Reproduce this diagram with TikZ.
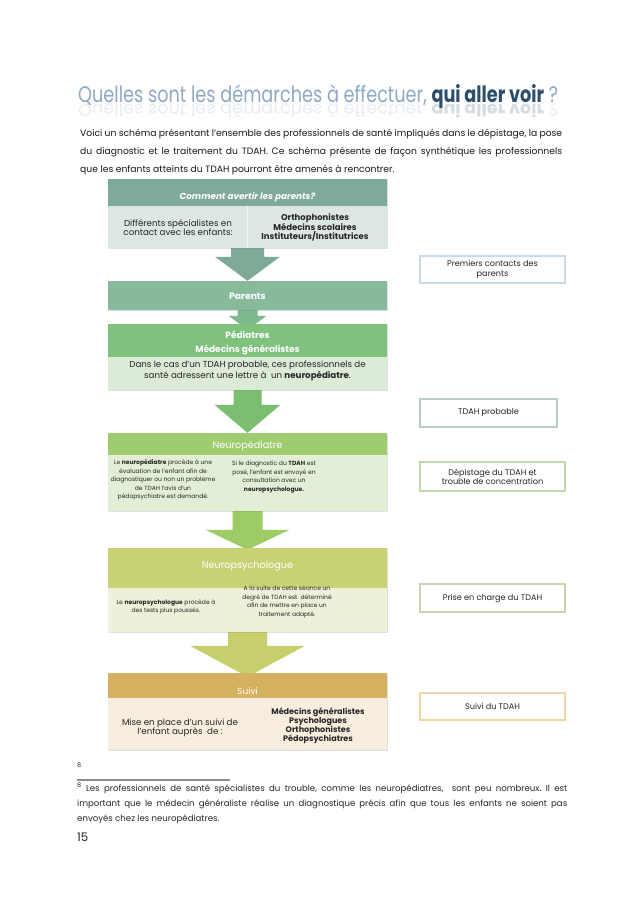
\documentclass[tikz,border=0pt]{standalone}
\usepackage{fontspec}
\setmainfont{Poppins}
\usepackage{graphicx}
\usetikzlibrary{calc,shadows,backgrounds}

% colours of the boxes
\definecolor{titleLight}{HTML}{8EA9C4}
\definecolor{titleDark}{HTML}{2C4D6B}
\definecolor{avertirHead}{HTML}{7FAA9A}
\definecolor{avertirBody}{HTML}{DCE6E2}
\definecolor{parentsFill}{HTML}{86BA9A}
\definecolor{pediaHead}{HTML}{7EC27D}
\definecolor{pediaBody}{HTML}{DBEBD7}
\definecolor{neuroHead}{HTML}{9FCC6F}
\definecolor{neuroBody}{HTML}{E2EED5}
\definecolor{psyHead}{HTML}{C9D273}
\definecolor{psyBody}{HTML}{EEF0D9}
\definecolor{suiviHead}{HTML}{D6B15F}
\definecolor{suiviBody}{HTML}{F7EEDF}
\definecolor{arrowA}{HTML}{7FAA97}
\definecolor{arrowB}{HTML}{7DB88E}
\definecolor{arrowC}{HTML}{7BBE6F}
\definecolor{arrowD}{HTML}{9DCB66}
\definecolor{arrowE}{HTML}{C6CF6B}
\definecolor{sideA}{HTML}{C9D9E8}
\definecolor{sideB}{HTML}{B7CCC2}
\definecolor{sideC}{HTML}{BEDAAA}
\definecolor{sideD}{HTML}{CFCFB3}
\definecolor{sideE}{HTML}{EDD7A3}

\newcommand{\pxu}{0.9326pt}
\newcommand{\titleline}{\resizebox{447.6pt}{16.8pt}{\fontsize{14}{14}\selectfont
  \color{titleLight}Quelles sont les démarches à effectuer, \textcolor{titleDark}{\bfseries qui aller voir} ?}}

% block arrow: from, to, stem half, head half, head length, overlap, colour
\newcommand{\flowarrow}[7]{%
  \fill[#7] ($(#1.south)+(-#3,0)$) -- ($(#1.south)+(#3,0)$)
    -- ($(#2.north)+(#3,#6-#5)$) -- ($(#2.north)+(#4,#6-#5)$)
    -- ($(#2.north)+(0,#6)$)
    -- ($(#2.north)+(-#4,#6-#5)$) -- ($(#2.north)+(-#3,#6-#5)$) -- cycle;}

\tikzset{
  band/.style={rectangle, inner sep=0pt, minimum width=279*\pxu,
    drop shadow={shadow xshift=0.6pt, shadow yshift=-0.9pt, opacity=0.25, fill=black!50}},
  headtext/.style={text=white, align=center, inner sep=0pt, font=\bfseries\fontsize{8.4}{9}\selectfont},
  bodytext/.style={inner sep=0pt, align=center, text=black!85, font=\fontsize{8.1}{8.5}\selectfont},
  smalltext/.style={bodytext, font=\fontsize{5.6}{7.9}\selectfont},
  sidebox/.style={rectangle, draw, line width=1.2pt, fill=white, inner sep=0pt,
    minimum width=145*\pxu, minimum height=27*\pxu, align=center, text=black!85,
    font=\fontsize{7.6}{8.6}\selectfont},
  paratext/.style={anchor=base west, inner sep=0pt, text=black!90, font=\fontsize{8.6}{10}\selectfont},
  notetext/.style={anchor=base west, inner sep=0pt, text=black!85, font=\fontsize{8}{9}\selectfont},
}

\begin{document}
\frenchspacing
\begin{tikzpicture}[x=\pxu, y=-\pxu]
  \useasboundingbox (0,0) rectangle (638,903);

  % Title and its reflection
  \node[anchor=base west, inner sep=0pt] (title) at (78,103) {\titleline};
  \node[anchor=base west, inner sep=0pt, opacity=0.2] (titleMirror) at (78,105) {\scalebox{1}[-0.75]{\titleline}};

  % Introduction
  \node[paratext] (parA) at (80,137) {\makebox[449.5pt][s]{Voici un schéma présentant l'ensemble des professionnels de santé impliqués dans le dépistage, la pose}};
  \node[paratext] (parB) at (80,155) {\makebox[449.5pt][s]{du diagnostic et le traitement du TDAH. Ce schéma présente de façon synthétique les professionnels}};
  \node[paratext] (parC) at (80,173) {que les enfants atteints du TDAH pourront être amenés à rencontrer.};

  % Comment avertir les parents
  \node[band, fill=avertirHead, minimum height=27*\pxu] (avertirHead) at (247.5,192.5) {};
  \node[headtext, font=\bfseries\itshape\fontsize{8.2}{9}\selectfont] (avertirTitle) at (247.5,197) {Comment avertir les parents?};
  \node[band, fill=avertirBody, minimum height=42*\pxu] (avertirBody) at (247.5,227) {};
  \draw[white, opacity=0.7, line width=0.8pt] (avertirBody.north) -- (avertirBody.south);
  \node[bodytext] (avertirLeft) at (178,227.5) {Différents spécialistes en\\contact avec les enfants:};
  \node[bodytext, font=\bfseries\fontsize{7.9}{8.9}\selectfont] (avertirRight) at (315,227.5) {Orthophonistes\\Médecins scolaires\\Instituteurs/Institutrices};

  % Parents
  \node[band, fill=parentsFill, minimum height=29*\pxu] (parents) at (247.5,295.5) {};
  \node[headtext, font=\bfseries\fontsize{8.6}{9}\selectfont] (parentsTitle) at (247.5,296.5) {Parents};

  % Pediatres
  \node[band, fill=pediaHead, minimum height=33*\pxu] (pediaHead) at (247.5,340.5) {};
  \node[headtext, font=\bfseries\fontsize{8.4}{13}\selectfont] (pediaTitle) at (247.5,343) {Pédiatres\\Médecins généralistes};
  \node[band, fill=pediaBody, minimum height=33*\pxu] (pediaBody) at (247.5,373.5) {};
  \node[bodytext] (pediaText) at (247.5,371) {Dans le cas d'un TDAH probable, ces professionnels de\\santé adressent une lettre à~ un \textbf{neuropédiatre}.};

  % Neuropediatre
  \node[band, fill=neuroHead, minimum height=22*\pxu] (neuroHead) at (247.5,444) {};
  \node[headtext, font=\fontsize{9}{9}\selectfont] (neuroTitle) at (247.5,446) {Neuropédiatre};
  \node[band, fill=neuroBody, minimum height=56*\pxu] (neuroBody) at (247.5,483) {};
  \node[smalltext] (neuroLeft) at (163,480) {Le \textbf{neuropédiatre} procède à une\\évaluation de l'enfant afin de\\diagnostiquer ou non un problème\\de TDAH l'avis d'un\\pédopsychiatre est demandé.};
  \node[smalltext] (neuroRight) at (274,477) {Si le diagnostic du \textbf{TDAH} est\\posé, l'enfant est envoyé en\\consultation avec un\\\textbf{neuropsychologue.}};

  % Neuropsychologue
  \node[band, fill=psyHead, minimum height=40*\pxu] (psyHead) at (247.5,568) {};
  \node[headtext, font=\fontsize{9}{9}\selectfont] (psyTitle) at (247.5,566.5) {Neuropsychologue};
  \node[band, fill=psyBody, minimum height=44*\pxu] (psyBody) at (247.5,610) {};
  \node[smalltext] (psyLeft) at (166,607) {Le \textbf{neuropsychologue} procède à\\des tests plus poussés.};
  \node[smalltext] (psyRight) at (287,602) {A la suite de cette séance un\\degré de TDAH est~ déterminé\\afin de mettre en place un\\traitement adapté.};

  % Suivi
  \node[band, fill=suiviHead, minimum height=25*\pxu] (suiviHead) at (247.5,685.5) {};
  \node[headtext, font=\fontsize{8.4}{9}\selectfont] (suiviTitle) at (247.5,691) {Suivi};
  \node[band, fill=suiviBody, minimum height=52*\pxu] (suiviBody) at (247.5,724) {};
  \node[bodytext] (suiviLeft) at (180,727.5) {Mise en place d'un suivi de\\l'enfant auprès~ de :};
  \node[bodytext, font=\bfseries\fontsize{7.5}{8.4}\selectfont] (suiviRight) at (318,725.5) {Médecins généralistes\\Psychologues\\Orthophonistes\\Pédopsychiatres};

  % Arrows between the boxes
  \begin{pgfonlayer}{background}
    \fill[white] (0,0) rectangle (638,903);
    \flowarrow{avertirBody}{parents}{16.5}{32.5}{24}{0}{arrowA}
    \flowarrow{parents}{pediaHead}{10}{19}{14}{6}{arrowB}
    \flowarrow{pediaBody}{neuroHead}{14}{33}{28}{0}{arrowC}
    \flowarrow{neuroBody}{psyHead}{15}{42}{20}{2}{arrowD}
    \flowarrow{psyBody}{suiviHead}{19.5}{57.5}{31}{4}{arrowE}
  \end{pgfonlayer}

  % Stages on the right
  \node[sidebox, draw=sideA] (contacts) at (492.5,269.5) {Premiers contacts des\\parents};
  \node[sidebox, draw=sideB, minimum width=137*\pxu, minimum height=28*\pxu] (probable) at (488.5,413) {TDAH probable};
  \node[sidebox, draw=sideC, minimum height=29*\pxu] (depistage) at (492.5,476.5) {Dépistage du TDAH et\\trouble de concentration};
  \node[sidebox, draw=sideD, minimum height=28*\pxu] (priseCharge) at (492.5,598) {Prise en charge du TDAH};
  \node[sidebox, draw=sideE] (suiviTdah) at (492.5,706.5) {Suivi du TDAH};

  % Footnote
  \node[notetext, font=\fontsize{6}{7}\selectfont] (noteMark) at (77,767) {8};
  \draw[black!45, line width=1pt] (77,780) -- (230,780);
  \node[notetext] (noteA) at (77,791) {\makebox[457pt][s]{\textsuperscript{8} Les professionnels de santé spécialistes du trouble, comme les neuropédiatres,\ \ sont peu nombreux. Il est}};
  \node[notetext] (noteB) at (77,806) {\makebox[457pt][s]{important que le médecin généraliste réalise un diagnostique précis afin que tous les enfants ne soient pas}};
  \node[notetext] (noteC) at (77,821) {envoyés chez les neuropédiatres.};
  \node[anchor=base west, inner sep=0pt, text=black!85, font=\fontsize{11}{13}\selectfont] (pageNum) at (77,841) {15};
\end{tikzpicture}
\end{document}
